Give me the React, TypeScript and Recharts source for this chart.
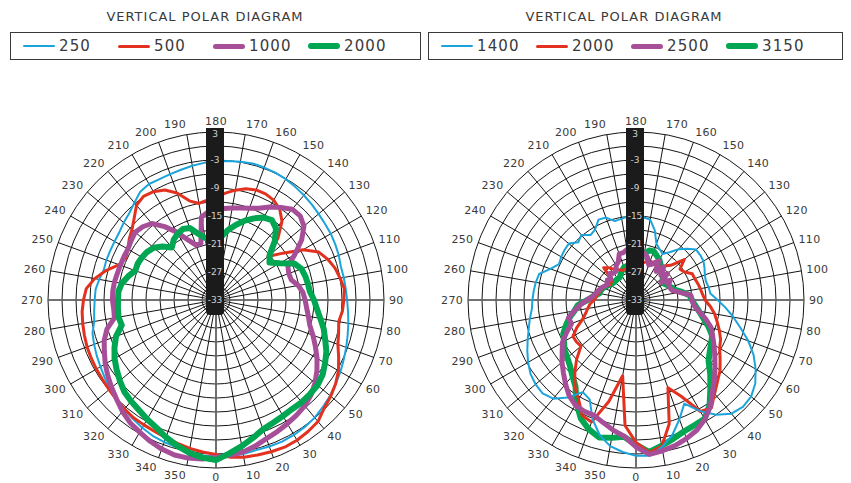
import React from "react";
import { RadarChart, Radar, PolarGrid, PolarAngleAxis, PolarRadiusAxis } from "recharts";

// angle categories (deg), 0 at bottom, 90 at right, 180 at top
const ANGLES = [
  0, 5, 10, 15, 20, 25, 30, 35, 40, 45, 50, 55, 60, 65, 70, 75, 80, 85,
  90, 95, 100, 105, 110, 115, 120, 125, 130, 135, 140, 145, 150, 155, 160, 165, 170, 175,
  180, 185, 190, 195, 200, 205, 210, 215, 220, 225, 230, 235, 240, 245, 250, 255, 260, 265,
  270, 275, 280, 285, 290, 295, 300, 305, 310, 315, 320, 325, 330, 335, 340, 345, 350, 355,
];

// left diagram (dB)
const LEFT_250 = [
  0.6, 0.5, 0.3, 0.4, 0.5, 0.4, 0.2, -0.1, -0.6, -1.1, -1.7, -2.2, -2.8, -3.3, -3.8, -4.2, -4.6, -4.9,
  -5.1, -5.2, -5.3, -5.0, -4.8, -4.6, -4.5, -4.3, -4.0, -3.7, -3.4, -3.1, -2.9, -2.8, -2.7, -2.9, -3.1, -3.3,
  -3.5, -3.8, -4.1, -4.3, -4.4, -4.3, -4.7, -5.8, -6.7, -7.2, -7.7, -7.9, -8.0, -8.0, -8.1, -7.6, -7.1, -7.0,
  -6.8, -6.5, -5.6, -5.2, -4.8, -4.4, -3.9, -3.4, -2.9, -2.4, -1.9, -1.4, -0.9, -0.6, -0.3, 0.1, 0.4, 0.6,
];
const LEFT_500 = [
  0.8, 1.2, 1.4, 1.6, 1.8, 1.7, 1.4, 1.0, -0.2, -0.9, -1.7, -2.7, -4.0, -5.2, -5.8, -6.3, -5.8, -5.6,
  -5.4, -6.0, -6.6, -7.5, -8.7, -11.5, -15.5, -18.5, -14.2, -11.0, -9.2, -8.3, -7.9, -7.9, -8.3, -9.1, -10.0, -11.0,
  -11.5, -12.0, -11.0, -8.6, -7.0, -6.2, -5.9, -6.5, -8.2, -9.5, -10.3, -11.2, -11.7, -10.9, -8.6, -6.6, -5.1, -4.6,
  -4.2, -4.0, -3.8, -3.6, -3.5, -3.4, -3.3, -3.1, -2.8, -2.5, -2.2, -2.1, -1.9, -1.6, -1.2, -0.7, -0.3, 0.1,
];
const LEFT_1000 = [
  0.4, 0.1, -0.6, -1.4, -1.9, -2.4, -2.9, -3.4, -4.2, -5.3, -6.6, -8.0, -9.5, -10.9, -12.2, -12.9, -13.5, -13.9,
  -14.3, -15.1, -16.3, -16.4, -16.0, -13.5, -10.6, -8.4, -7.5, -7.6, -8.8, -10.0, -11.3, -12.1, -12.6, -13.0, -13.3, -13.5,
  -14.0, -15.0, -20.5, -20.5, -18.8, -16.2, -13.8, -11.6, -10.8, -10.4, -10.8, -11.2, -11.2, -11.2, -11.1, -10.9, -10.8, -10.8,
  -11.0, -10.9, -8.8, -7.5, -6.6, -5.6, -4.7, -3.8, -2.9, -1.8, -0.9, -0.3, 0.4, 1.0, 1.4, 1.4, 1.2, 0.7,
];
const LEFT_2000 = [
  0.0, -1.2, -2.4, -3.5, -4.0, -4.3, -4.5, -4.4, -4.5, -4.6, -5.1, -6.0, -6.9, -8.1, -9.1, -10.3, -11.3, -12.0,
  -12.8, -13.0, -13.2, -13.5, -14.5, -17.2, -19.0, -18.0, -15.2, -13.0, -12.1, -12.6, -13.7, -14.9, -16.3, -17.7, -19.3, -20.0,
  -20.0, -19.5, -18.3, -16.6, -16.2, -16.6, -17.2, -18.3, -16.8, -15.6, -15.0, -14.7, -14.5, -14.6, -13.5, -12.5, -12.0, -12.0,
  -11.9, -11.8, -12.1, -10.2, -9.0, -7.9, -7.0, -6.1, -5.2, -4.7, -4.2, -3.5, -2.8, -1.7, -0.7, 0.2, 0.9, 1.3,
];

// right diagram (dB)
const RIGHT_1400 = [
  0.5, -1.0, -3.0, -5.8, -8.5, -5.5, -3.0, -1.2, -0.6, -0.8, -1.8, -3.4, -5.2, -7.4, -9.8, -11.8, -13.7, -15.5,
  -17.0, -17.2, -17.5, -17.3, -16.8, -16.3, -16.2, -16.2, -17.5, -18.8, -20.5, -21.6, -21.0, -20.2, -17.5, -15.5, -15.2, -15.0,
  -15.0, -15.3, -15.5, -14.2, -14.0, -15.5, -16.0, -14.8, -15.5, -14.2, -14.3, -14.5, -14.8, -13.5, -11.5, -11.2, -11.0, -10.8,
  -10.6, -9.9, -9.2, -8.3, -7.3, -6.3, -5.4, -4.9, -4.7, -5.4, -7.5, -10.2, -9.5, -5.8, -3.0, -1.2, -0.3, 0.4,
];
const RIGHT_2000 = [
  -0.2, -1.2, -5.5, -13.0, -10.3, -5.4, -4.8, -6.8, -8.3, -9.5, -11.0, -12.3, -13.0, -14.0, -15.0, -15.9, -17.0, -18.2,
  -18.7, -19.0, -19.3, -19.6, -19.7, -21.0, -21.5, -19.5, -22.5, -23.5, -24.5, -24.5, -24.0, -24.5, -24.5, -25.0, -25.0, -25.5,
  -26.0, -26.0, -26.5, -26.0, -26.0, -25.5, -25.0, -24.0, -23.2, -26.3, -26.5, -26.5, -26.0, -25.5, -25.2, -24.8, -24.5, -24.0,
  -23.1, -22.5, -21.8, -20.8, -19.0, -17.4, -17.4, -17.6, -15.0, -12.6, -10.2, -8.4, -5.7, -5.2, -10.5, -16.5, -6.0, -2.5,
];
const RIGHT_2500 = [
  0.2, -0.2, -0.7, -1.4, -2.2, -3.5, -5.2, -7.5, -9.2, -10.9, -12.4, -13.7, -14.9, -15.9, -17.6, -19.4, -20.6, -21.0,
  -21.2, -23.5, -25.0, -25.3, -25.3, -24.5, -26.4, -24.2, -25.5, -23.8, -25.5, -23.3, -24.5, -25.0, -23.5, -22.8, -23.0, -22.5,
  -22.0, -22.0, -22.5, -22.5, -24.0, -24.5, -25.5, -25.5, -25.0, -26.0, -25.5, -26.0, -25.8, -25.2, -24.8, -24.3, -23.8, -22.5,
  -21.0, -19.5, -18.0, -18.3, -16.6, -14.8, -13.7, -12.3, -11.0, -9.5, -8.0, -7.0, -6.7, -6.7, -5.8, -4.7, -3.7, -1.5,
];
const RIGHT_3150 = [
  -0.3, -1.3, -2.2, -3.0, -3.4, -3.6, -5.5, -8.2, -10.5, -12.7, -13.7, -14.4, -15.0, -16.5, -18.1, -19.3, -20.3, -21.0,
  -21.5, -23.0, -24.5, -25.0, -25.5, -26.0, -26.0, -25.5, -25.0, -24.5, -23.8, -23.0, -22.5, -21.9, -22.0, -23.0, -24.0, -25.0,
  -25.0, -25.0, -25.5, -25.5, -26.0, -26.5, -27.0, -27.0, -27.0, -27.0, -26.8, -26.5, -26.0, -25.5, -25.2, -25.0, -23.8, -22.6,
  -20.5, -19.6, -18.2, -17.0, -15.8, -15.2, -14.3, -13.8, -13.0, -11.8, -10.4, -7.5, -5.0, -3.5, -2.5, -3.0, -3.6, -2.0,
];

const RADIUS_TICKS = [-33, -30, -27, -24, -21, -18, -15, -12, -9, -6, -3, 0, 3];
const RADIUS_LABELS = [3, -3, -9, -15, -21, -27, -33];
const GRID_ANGLES = [
  0, 10, 20, 30, 40, 50, 60, 70, 80, 90, 100, 110, 120, 130, 140, 150, 160, 170,
  180, 190, 200, 210, 220, 230, 240, 250, 260, 270, 280, 290, 300, 310, 320, 330, 340, 350,
];

const CX = 216;
const CY = 300;
const R = 168;
const FONT = "'DejaVu Sans', sans-serif";
const TEXT = "#3a3a3a";
const BLUE = "#1ba4dc";
const RED = "#e2321f";
const PURPLE = "#a64f98";
const GREEN = "#00a651";

const toMath = (deg: number) => deg - 90;

function AngleTick(props: any) {
  const v = Number(props.payload?.value);
  if (v % 10 !== 0) return <g />;
  const rad = (v * Math.PI) / 180;
  const s = Math.sin(rad);
  const c = Math.cos(rad);
  const x = CX + (R + 5) * s;
  const y = CY + (R + 5) * c;
  const anchor = s > 0.05 ? "start" : s < -0.05 ? "end" : "middle";
  // labels on the upper half sit a bit higher so they clear the scale bar
  const k = c < 0 ? 0.52 : 0.42;
  return (
    <text x={x} y={y} dy={`${0.35 + k * c}em`} textAnchor={anchor}
      fontSize={11} fontFamily={FONT} fill={TEXT} letterSpacing={0.3}>
      {v}
    </text>
  );
}

function RadiusTick(props: any) {
  const { x, y, payload } = props;
  const v = payload.value;
  const top = v === 3 ? y - 4 : v === -33 ? y - 14 : y - 7.5;
  const bottom = v === -33 ? y + 15 : y + 7.5;
  return (
    <g>
      <rect x={x - 10} y={top} width={18} height={bottom - top}
        rx={v === -33 ? 4 : 0} fill="#1b1b1b" />
      {RADIUS_LABELS.includes(v) && (
        <text x={x - 1} y={v === 3 ? y + 2 : y} dy="0.35em" textAnchor="middle" fontSize={9}
          fontFamily={FONT} fill="#d0d0d0">
          {v}
        </text>
      )}
    </g>
  );
}

interface Series { key: string; name: string; values: number[]; color: string; width: number }

function PolarPanel({ series }: { series: Series[] }) {
  const data = ANGLES.map((a, i) => {
    const row: Record<string, number> = { angle: a };
    series.forEach((s) => { row[s.key] = s.values[i]; });
    return row;
  });

  return (
    <RadarChart width={430} height={483} data={data} cx={CX} cy={CY}
      innerRadius={0} outerRadius={R} startAngle={-90} endAngle={270}
      margin={{ top: 0, right: 0, bottom: 0, left: 0 }}>
      <PolarGrid gridType="circle" polarAngles={GRID_ANGLES.map(toMath)}
        stroke="#151515" strokeWidth={1} />
      <PolarGrid gridType="circle" polarAngles={[0, 90, 180, 270].map(toMath)}
        polarRadius={[]} stroke="#6a6a6a" strokeWidth={1.6} />
      <PolarAngleAxis dataKey="angle" tick={AngleTick} tickLine={false} axisLine={false} />
      {series.map((s) => (
        <Radar key={s.key} dataKey={s.key} name={s.name} stroke={s.color}
          strokeWidth={s.width} strokeLinejoin="round" fill="none" fillOpacity={0}
          dot={false} isAnimationActive={false} />
      ))}
      <PolarRadiusAxis angle={90} type="number" domain={[-33, 3]} ticks={RADIUS_TICKS}
        tickCount={13} axisLine={false} tick={RadiusTick} />
    </RadarChart>
  );
}

function LegendBox({ left, width, items }: { left: number; width: number; items: Series[] }) {
  return (
    <div style={{
      position: "absolute", left, top: 32, width, height: 28, boxSizing: "border-box",
      border: "1.3px solid #3a3a3a", display: "flex", alignItems: "center", paddingLeft: 12,
    }}>
      {items.map((s) => (
        <div key={s.key} style={{ width: 95, display: "flex", alignItems: "center" }}>
          <span style={{
            display: "inline-block", width: 32, height: s.width, borderRadius: s.width,
            background: s.color,
          }} />
          <span style={{ marginLeft: 4, fontSize: 15, letterSpacing: 1.1, color: TEXT }}>{s.name}</span>
        </div>
      ))}
    </div>
  );
}

export default function App() {
  const left: Series[] = [
    { key: "f250", name: "250", values: LEFT_250, color: BLUE, width: 2 },
    { key: "f500", name: "500", values: LEFT_500, color: RED, width: 3 },
    { key: "f1000", name: "1000", values: LEFT_1000, color: PURPLE, width: 5 },
    { key: "f2000", name: "2000", values: LEFT_2000, color: GREEN, width: 6 },
  ];
  const right: Series[] = [
    { key: "f1400", name: "1400", values: RIGHT_1400, color: BLUE, width: 2 },
    { key: "f2000", name: "2000", values: RIGHT_2000, color: RED, width: 3 },
    { key: "f2500", name: "2500", values: RIGHT_2500, color: PURPLE, width: 5 },
    { key: "f3150", name: "3150", values: RIGHT_3150, color: GREEN, width: 6 },
  ];
  // draw order in the right diagram: green under the others, purple on top
  const rightDraw = [right[3], right[1], right[0], right[2]];

  const titleStyle: React.CSSProperties = {
    position: "absolute", top: 9, textAlign: "center", fontSize: 13,
    letterSpacing: 1, color: TEXT,
  };

  return (
    <div style={{
      position: "absolute", left: 0, top: 0, width: 851, height: 483, overflow: "hidden",
      background: "#fff", fontFamily: FONT,
    }}>
      <div style={{ ...titleStyle, left: 0, width: 410 }}>VERTICAL POLAR DIAGRAM</div>
      <div style={{ ...titleStyle, left: 420, width: 408 }}>VERTICAL POLAR DIAGRAM</div>
      <LegendBox left={10} width={411} items={left} />
      <LegendBox left={428} width={415} items={right} />
      <div style={{ position: "absolute", left: 0, top: 0 }}>
        <PolarPanel series={left} />
      </div>
      <div style={{ position: "absolute", left: 420, top: 0 }}>
        <PolarPanel series={rightDraw} />
      </div>
    </div>
  );
}
